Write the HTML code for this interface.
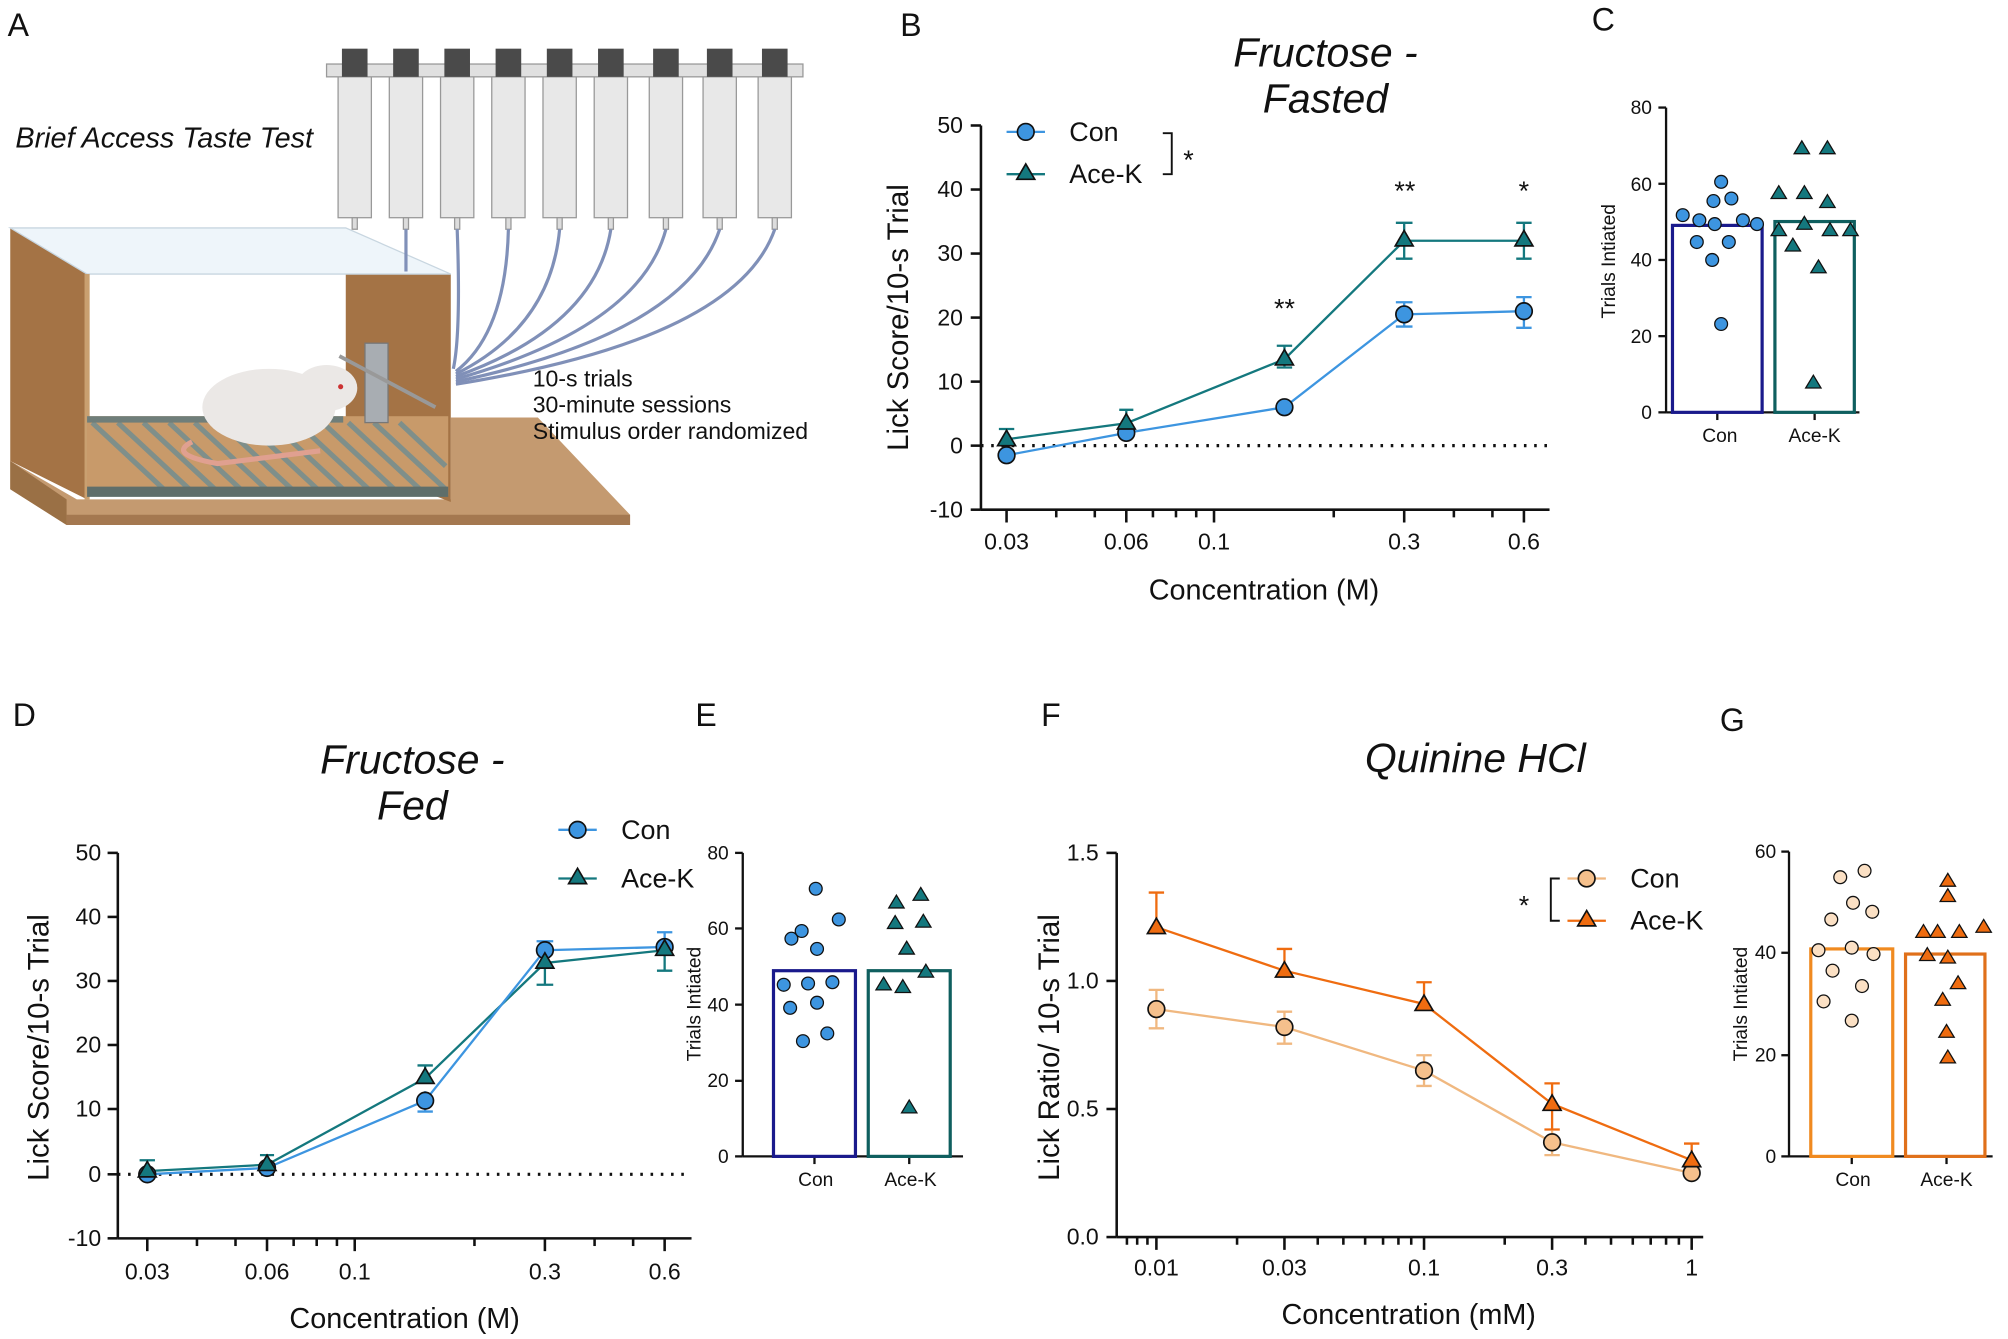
<!DOCTYPE html>
<html><head><meta charset="utf-8"><style>
html,body{margin:0;padding:0;background:#fff}
svg{display:block}
text{font-family:"Liberation Sans",sans-serif;fill:#111}
.t{font-size:18px}
.st{font-size:15px}
.ax{font-size:21px}
.ax2{font-size:22.5px}
.ay{font-size:23px}
.ti{font-size:32px;font-style:italic}
.L{font-size:25px}
</style></head><body>
<svg width="2008" height="1339" viewBox="0 0 1568 1045.6" xmlns="http://www.w3.org/2000/svg">
<rect width="1568" height="1046" fill="#fff"/>
<text class="L" x="6" y="28">A</text>
<text class="L" x="703" y="28">B</text>
<text class="L" x="1243" y="24">C</text>
<text class="L" x="10" y="567">D</text>
<text class="L" x="543" y="567">E</text>
<text class="L" x="813" y="567">F</text>
<text class="L" x="1343" y="571">G</text>

<g>
 <polygon points="8,382 52,410 492,410 492,402 420,326 352,326 352,390 60,390 8,360" fill="#c49a70"/>
 <polygon points="8,360 52,390 52,410 8,382" fill="#9a7045"/>
 <polygon points="52,402 492,402 492,410 52,410" fill="#a47850"/>
 <polygon points="8,178 68,214 68,390 8,360" fill="#a47345"/>
 <polygon points="270,180 352,214 352,392 270,360" fill="#a47345"/>
 <polygon points="8,178 270,178 352,214 68,214" fill="#eef5fa" stroke="#c8d6e0"/>
 <rect x="66" y="214" width="4" height="176" fill="#c9a070"/>
 <rect x="68" y="325" width="282" height="62" fill="#c89a6a"/>
 <g stroke="#7f8f8a" stroke-width="4">
  <line x1="72" y1="330" x2="130" y2="384"/><line x1="92" y1="330" x2="150" y2="384"/><line x1="112" y1="330" x2="170" y2="384"/><line x1="132" y1="330" x2="190" y2="384"/><line x1="152" y1="330" x2="210" y2="384"/><line x1="172" y1="330" x2="230" y2="384"/><line x1="192" y1="330" x2="250" y2="384"/><line x1="212" y1="330" x2="270" y2="384"/><line x1="232" y1="330" x2="290" y2="384"/><line x1="252" y1="330" x2="310" y2="384"/><line x1="272" y1="330" x2="330" y2="384"/><line x1="292" y1="330" x2="348" y2="382"/><line x1="312" y1="330" x2="348" y2="364"/>
 </g>
 <rect x="68" y="380" width="282" height="8" fill="#5f6e6a"/>
 <rect x="68" y="325" width="200" height="5" fill="#6f7e7a"/>
 <rect x="285" y="268" width="18" height="62" fill="#a8adb2" stroke="#777"/>
 <line x1="265" y1="278" x2="340" y2="318" stroke="#999" stroke-width="3"/>
 <ellipse cx="210" cy="318" rx="52" ry="30" fill="#ebe8e6"/>
 <ellipse cx="255" cy="303" rx="24" ry="18" fill="#ebe8e6"/>
 <circle cx="266" cy="302" r="2" fill="#c33"/>
 <path d="M150,345 Q130,355 170,362 L250,352" stroke="#e0a090" stroke-width="4" fill="none"/>
 <g fill="#e8e8e8" stroke="#999">
  <rect x="264" y="52" width="26" height="118"/><rect x="304" y="52" width="26" height="118"/><rect x="344" y="52" width="26" height="118"/><rect x="384" y="52" width="26" height="118"/><rect x="424" y="52" width="26" height="118"/><rect x="464" y="52" width="26" height="118"/><rect x="507" y="52" width="26" height="118"/><rect x="549" y="52" width="26" height="118"/><rect x="592" y="52" width="26" height="118"/>
 </g>
 <g fill="#ddd" stroke="#999">
  <rect x="275" y="170" width="4" height="9"/><rect x="315" y="170" width="4" height="9"/><rect x="355" y="170" width="4" height="9"/><rect x="395" y="170" width="4" height="9"/><rect x="435" y="170" width="4" height="9"/><rect x="475" y="170" width="4" height="9"/><rect x="518" y="170" width="4" height="9"/><rect x="560" y="170" width="4" height="9"/><rect x="603" y="170" width="4" height="9"/>
 </g>
 <rect x="255" y="50" width="372" height="10" fill="#e0e0e0" stroke="#999"/>
 <g fill="#4a4a4a">
  <rect x="267" y="38" width="20" height="22"/><rect x="307" y="38" width="20" height="22"/><rect x="347" y="38" width="20" height="22"/><rect x="387" y="38" width="20" height="22"/><rect x="427" y="38" width="20" height="22"/><rect x="467" y="38" width="20" height="22"/><rect x="510" y="38" width="20" height="22"/><rect x="552" y="38" width="20" height="22"/><rect x="595" y="38" width="20" height="22"/>
 </g>
 <g stroke="#8090b8" stroke-width="2.5" fill="none">
  <path d="M317,179 L317,212"/><path d="M357,179 Q360,260 354,288"/><path d="M397,179 Q395,260 356,290"/><path d="M437,179 Q430,255 356,292"/><path d="M477,179 Q465,255 356,294"/><path d="M520,179 Q500,255 356,296"/><path d="M562,179 Q535,260 356,298"/><path d="M605,179 Q575,265 356,300"/>
 </g>
 <text x="12" y="115" style="font-size:22.5px;font-style:italic">Brief Access Taste Test</text>
 <text x="416" y="302" style="font-size:18px">10-s trials</text>
 <text x="416" y="322" style="font-size:18px">30-minute sessions</text>
 <text x="416" y="343" style="font-size:18px">Stimulus order randomized</text>
</g>

<g>
 <text class="ti" x="1035" y="52" text-anchor="middle">Fructose -</text>
 <text class="ti" x="1035" y="88" text-anchor="middle">Fasted</text>
 <g stroke="#111" stroke-width="2">
  <line x1="766" y1="98" x2="766" y2="398"/>
  <line x1="766" y1="398" x2="1210" y2="398"/>
  <line x1="758" y1="98" x2="766" y2="98"/><line x1="758" y1="148" x2="766" y2="148"/><line x1="758" y1="198" x2="766" y2="198"/><line x1="758" y1="248" x2="766" y2="248"/><line x1="758" y1="298" x2="766" y2="298"/><line x1="758" y1="348" x2="766" y2="348"/><line x1="758" y1="398" x2="766" y2="398"/>
  <line x1="786" y1="398" x2="786" y2="408"/><line x1="879.5" y1="398" x2="879.5" y2="408"/><line x1="948" y1="398" x2="948" y2="408"/><line x1="1096.5" y1="398" x2="1096.5" y2="408"/><line x1="1190" y1="398" x2="1190" y2="408"/>
  <line x1="824.8" y1="398" x2="824.8" y2="404"/><line x1="854.9" y1="398" x2="854.9" y2="404"/><line x1="900.3" y1="398" x2="900.3" y2="404"/><line x1="918.3" y1="398" x2="918.3" y2="404"/><line x1="934.1" y1="398" x2="934.1" y2="404"/><line x1="1041.5" y1="398" x2="1041.5" y2="404"/><line x1="1135.3" y1="398" x2="1135.3" y2="404"/><line x1="1165.4" y1="398" x2="1165.4" y2="404"/>
 </g>
 <line x1="766" y1="348" x2="1210" y2="348" stroke="#111" stroke-width="2.5" stroke-dasharray="2,6"/>
 <g class="t" text-anchor="end"><text x="752" y="104">50</text><text x="752" y="154">40</text><text x="752" y="204">30</text><text x="752" y="254">20</text><text x="752" y="304">10</text><text x="752" y="354">0</text><text x="752" y="404">-10</text></g>
 <g class="t" text-anchor="middle"><text x="786" y="429">0.03</text><text x="879.5" y="429">0.06</text><text x="948" y="429">0.1</text><text x="1096.5" y="429">0.3</text><text x="1190" y="429">0.6</text></g>
 <text class="ax2" x="987" y="468" text-anchor="middle">Concentration (M)</text>
 <text class="ay" transform="translate(709,248) rotate(-90)" text-anchor="middle">Lick Score/10-s Trial</text>
 <g stroke="#3d95e0" stroke-width="1.8" fill="none">
  <polyline points="786,355.5 879.5,338 1003,318 1096.5,245.5 1190,243"/>
  <path d="M1096.5,236v19M1090,236h13M1090,255h13M1190,232v24M1184,232h12M1184,256h12M879.5,332v12M874,332h11"/>
 </g>
 <g stroke="#14787e" stroke-width="1.8" fill="none">
  <polyline points="786,343 879.5,330.5 1003,280.5 1096.5,188 1190,188"/>
  <path d="M1096.5,174v28M1090,174h13M1090,202h13M1190,174v28M1184,174h12M1184,202h12M1003,270v17M997,270h12M997,287h12M786,335v8M780,335h12M879.5,320v10M874,320h11"/>
 </g>
 <g fill="#3d95e0" stroke="#111" stroke-width="1.3">
  <circle cx="786" cy="355.5" r="6.5"/><circle cx="879.5" cy="338" r="6.5"/><circle cx="1003" cy="318" r="6.5"/><circle cx="1096.5" cy="245.5" r="6.5"/><circle cx="1190" cy="243" r="6.5"/>
 </g>
 <g fill="#14787e" stroke="#111" stroke-width="1.3">
  <polygon points="786,336 793,348 779,348"/><polygon points="879.5,323 886.5,335 872.5,335"/><polygon points="1003,273 1010,285 996,285"/><polygon points="1096.5,180 1103.5,192 1089.5,192"/><polygon points="1190,180 1197,192 1183,192"/>
 </g>
 <line x1="786" y1="103" x2="816" y2="103" stroke="#3d95e0" stroke-width="1.8"/><circle cx="801" cy="103" r="6.5" fill="#3d95e0" stroke="#111" stroke-width="1.3"/>
 <line x1="786" y1="136" x2="816" y2="136" stroke="#14787e" stroke-width="1.8"/><polygon points="801,128 808,140 794,140" fill="#14787e" stroke="#111" stroke-width="1.3"/>
 <text class="ax" x="835" y="110">Con</text><text class="ax" x="835" y="143">Ace-K</text>
 <path d="M908,104h7v32h-7" stroke="#111" stroke-width="1.5" fill="none"/>
 <text class="ax" x="924" y="132">*</text>
 <text class="ax" x="1003" y="248" text-anchor="middle">**</text>
 <text class="ax" x="1097" y="156" text-anchor="middle">**</text>
 <text class="ax" x="1190" y="156" text-anchor="middle">*</text>
</g>

<g>
 <g stroke="#111" stroke-width="1.8">
  <line x1="1301" y1="84" x2="1301" y2="322"/><line x1="1301" y1="322" x2="1452" y2="322"/>
  <line x1="1295" y1="84" x2="1301" y2="84"/><line x1="1295" y1="143.5" x2="1301" y2="143.5"/><line x1="1295" y1="203" x2="1301" y2="203"/><line x1="1295" y1="262.5" x2="1301" y2="262.5"/><line x1="1295" y1="322" x2="1301" y2="322"/>
  <line x1="1341" y1="322" x2="1341" y2="328"/><line x1="1417" y1="322" x2="1417" y2="328"/>
 </g>
 <g class="st" text-anchor="end"><text x="1290" y="89">80</text><text x="1290" y="149">60</text><text x="1290" y="208">40</text><text x="1290" y="268">20</text><text x="1290" y="327">0</text></g>
 <g class="st" text-anchor="middle"><text x="1343" y="345">Con</text><text x="1417" y="345">Ace-K</text></g>
 <text class="st" transform="translate(1261,204) rotate(-90)" text-anchor="middle">Trials Intiated</text>
 <rect x="1306" y="176" width="70" height="146" fill="none" stroke="#1a1a8c" stroke-width="2.5"/>
 <rect x="1386" y="173" width="62" height="149" fill="none" stroke="#0f5f5f" stroke-width="2.5"/>
 <g fill="#3d95e0" stroke="#111" stroke-width="1">
  <circle cx="1344" cy="142" r="5"/><circle cx="1338" cy="157" r="5"/><circle cx="1314" cy="168" r="5"/><circle cx="1352" cy="155" r="5"/><circle cx="1327" cy="172" r="5"/><circle cx="1339" cy="175" r="5"/><circle cx="1361" cy="172" r="5"/><circle cx="1372" cy="175" r="5"/><circle cx="1325" cy="189" r="5"/><circle cx="1350" cy="189" r="5"/><circle cx="1337" cy="203" r="5"/><circle cx="1344" cy="253" r="5"/>
 </g>
 <g fill="#14787e" stroke="#111" stroke-width="1">
  <polygon points="1407,110 1413,120 1401,120"/><polygon points="1427,110 1433,120 1421,120"/><polygon points="1389,145 1395,155 1383,155"/><polygon points="1409,145 1415,155 1403,155"/><polygon points="1427,152 1433,162 1421,162"/><polygon points="1389,174 1395,184 1383,184"/><polygon points="1409,169 1415,179 1403,179"/><polygon points="1445,174 1451,184 1439,184"/><polygon points="1429,174 1435,184 1423,184"/><polygon points="1400,186 1406,196 1394,196"/><polygon points="1420,203 1426,213 1414,213"/><polygon points="1416,293 1422,303 1410,303"/>
 </g>
</g>

<g>
 <text class="ti" x="322" y="604" text-anchor="middle">Fructose -</text>
 <text class="ti" x="322" y="640" text-anchor="middle">Fed</text>
 <g stroke="#111" stroke-width="2">
  <line x1="92" y1="666" x2="92" y2="967"/><line x1="92" y1="967" x2="540" y2="967"/>
  <line x1="84" y1="666" x2="92" y2="666"/><line x1="84" y1="716" x2="92" y2="716"/><line x1="84" y1="766" x2="92" y2="766"/><line x1="84" y1="816" x2="92" y2="816"/><line x1="84" y1="866" x2="92" y2="866"/><line x1="84" y1="917" x2="92" y2="917"/><line x1="84" y1="967" x2="92" y2="967"/>
  <line x1="115" y1="967" x2="115" y2="977"/><line x1="208.5" y1="967" x2="208.5" y2="977"/><line x1="277" y1="967" x2="277" y2="977"/><line x1="425.5" y1="967" x2="425.5" y2="977"/><line x1="519" y1="967" x2="519" y2="977"/>
  <line x1="153.8" y1="967" x2="153.8" y2="973"/><line x1="183.9" y1="967" x2="183.9" y2="973"/><line x1="229.3" y1="967" x2="229.3" y2="973"/><line x1="247.3" y1="967" x2="247.3" y2="973"/><line x1="263.1" y1="967" x2="263.1" y2="973"/><line x1="370.5" y1="967" x2="370.5" y2="973"/><line x1="464.3" y1="967" x2="464.3" y2="973"/><line x1="494.4" y1="967" x2="494.4" y2="973"/>
 </g>
 <line x1="92" y1="917" x2="540" y2="917" stroke="#111" stroke-width="2.5" stroke-dasharray="2,6"/>
 <g class="t" text-anchor="end"><text x="79" y="672">50</text><text x="79" y="722">40</text><text x="79" y="772">30</text><text x="79" y="822">20</text><text x="79" y="872">10</text><text x="79" y="923">0</text><text x="79" y="973">-10</text></g>
 <g class="t" text-anchor="middle"><text x="115" y="999">0.03</text><text x="208.5" y="999">0.06</text><text x="277" y="999">0.1</text><text x="425.5" y="999">0.3</text><text x="519" y="999">0.6</text></g>
 <text class="ax2" x="316" y="1037" text-anchor="middle">Concentration (M)</text>
 <text class="ay" transform="translate(38,818) rotate(-90)" text-anchor="middle">Lick Score/10-s Trial</text>
 <g stroke="#14787e" stroke-width="1.8" fill="none">
  <polyline points="115,914.5 208.5,909.5 332,842 425.5,752 519,742"/>
  <path d="M115,906v9M109,906h12M208.5,902v8M203,902h11M332,832v10M326,832h12M425.5,752v17M419,769h13M519,742v16M513,758h12"/>
 </g>
 <g stroke="#3d95e0" stroke-width="1.8" fill="none">
  <polyline points="115,917 208.5,912 332,859.5 425.5,742 519,739.5"/>
  <path d="M332,852v16M326,868h12M425.5,735v7M419,735h13M519,728v12M513,728h12"/>
 </g>
 <g fill="#3d95e0" stroke="#111" stroke-width="1.3">
  <circle cx="115" cy="917" r="6.5"/><circle cx="208.5" cy="912" r="6.5"/><circle cx="332" cy="859.5" r="6.5"/><circle cx="425.5" cy="742" r="6.5"/><circle cx="519" cy="739.5" r="6.5"/>
 </g>
 <g fill="#14787e" stroke="#111" stroke-width="1.3">
  <polygon points="115,907 122,919 108,919"/><polygon points="208.5,902 215.5,914 201.5,914"/><polygon points="332,834 339,846 325,846"/><polygon points="425.5,744 432.5,756 418.5,756"/><polygon points="519,734 526,746 512,746"/>
 </g>
 <line x1="436" y1="648" x2="466" y2="648" stroke="#3d95e0" stroke-width="1.8"/><circle cx="451" cy="648" r="6.5" fill="#3d95e0" stroke="#111" stroke-width="1.3"/>
 <line x1="436" y1="686" x2="466" y2="686" stroke="#14787e" stroke-width="1.8"/><polygon points="451,678 458,690 444,690" fill="#14787e" stroke="#111" stroke-width="1.3"/>
 <text class="ax" x="485" y="655">Con</text><text class="ax" x="485" y="693">Ace-K</text>
</g>

<g>
 <g stroke="#111" stroke-width="1.8">
  <line x1="580" y1="666" x2="580" y2="903"/><line x1="580" y1="903" x2="752" y2="903"/>
  <line x1="574" y1="666" x2="580" y2="666"/><line x1="574" y1="725" x2="580" y2="725"/><line x1="574" y1="784.5" x2="580" y2="784.5"/><line x1="574" y1="844" x2="580" y2="844"/><line x1="574" y1="903" x2="580" y2="903"/>
  <line x1="636" y1="903" x2="636" y2="909"/><line x1="710" y1="903" x2="710" y2="909"/>
 </g>
 <g class="st" text-anchor="end"><text x="569" y="671">80</text><text x="569" y="730">60</text><text x="569" y="790">40</text><text x="569" y="849">20</text><text x="569" y="908">0</text></g>
 <g class="st" text-anchor="middle"><text x="637" y="926">Con</text><text x="711" y="926">Ace-K</text></g>
 <text class="st" transform="translate(547,784) rotate(-90)" text-anchor="middle">Trials Intiated</text>
 <rect x="604" y="758" width="64" height="145" fill="none" stroke="#1a1a8c" stroke-width="2.5"/>
 <rect x="678" y="758" width="64" height="145" fill="none" stroke="#0f5f5f" stroke-width="2.5"/>
 <g fill="#3d95e0" stroke="#111" stroke-width="1">
  <circle cx="637" cy="694" r="5"/><circle cx="618" cy="733" r="5"/><circle cx="638" cy="741" r="5"/><circle cx="655" cy="718" r="5"/><circle cx="626" cy="727" r="5"/><circle cx="612" cy="769" r="5"/><circle cx="631" cy="768" r="5"/><circle cx="650" cy="767" r="5"/><circle cx="638" cy="783" r="5"/><circle cx="617" cy="787" r="5"/><circle cx="646" cy="807" r="5"/><circle cx="627" cy="813" r="5"/>
 </g>
 <g fill="#14787e" stroke="#111" stroke-width="1">
  <polygon points="700,699 706,709 694,709"/><polygon points="719,693 725,703 713,703"/><polygon points="699,715 705,725 693,725"/><polygon points="721,714 727,724 715,724"/><polygon points="708,735 714,745 702,745"/><polygon points="723,753 729,763 717,763"/><polygon points="690,763 696,773 684,773"/><polygon points="705,765 711,775 699,775"/><polygon points="710,859 716,869 704,869"/>
 </g>
</g>

<g>
 <text class="ti" x="1152" y="603" text-anchor="middle">Quinine HCl</text>
 <g stroke="#111" stroke-width="2">
  <line x1="872" y1="666" x2="872" y2="966"/><line x1="872" y1="966" x2="1330" y2="966"/>
  <line x1="864" y1="666" x2="872" y2="666"/><line x1="864" y1="766" x2="872" y2="766"/><line x1="864" y1="866" x2="872" y2="866"/><line x1="864" y1="966" x2="872" y2="966"/>
  <line x1="903" y1="966" x2="903" y2="976"/><line x1="1003" y1="966" x2="1003" y2="976"/><line x1="1112" y1="966" x2="1112" y2="976"/><line x1="1212" y1="966" x2="1212" y2="976"/><line x1="1321" y1="966" x2="1321" y2="976"/>
  <line x1="966" y1="966" x2="966" y2="972"/><line x1="1029" y1="966" x2="1029" y2="972"/><line x1="1049" y1="966" x2="1049" y2="972"/><line x1="1066" y1="966" x2="1066" y2="972"/><line x1="1080" y1="966" x2="1080" y2="972"/><line x1="1092" y1="966" x2="1092" y2="972"/><line x1="1102" y1="966" x2="1102" y2="972"/><line x1="1175" y1="966" x2="1175" y2="972"/><line x1="1238" y1="966" x2="1238" y2="972"/><line x1="1258" y1="966" x2="1258" y2="972"/><line x1="1275" y1="966" x2="1275" y2="972"/><line x1="1289" y1="966" x2="1289" y2="972"/><line x1="1301" y1="966" x2="1301" y2="972"/><line x1="1311" y1="966" x2="1311" y2="972"/>
  <line x1="880" y1="966" x2="880" y2="972"/><line x1="888" y1="966" x2="888" y2="972"/><line x1="896" y1="966" x2="896" y2="972"/>
 </g>
 <g class="t" text-anchor="end"><text x="858" y="672">1.5</text><text x="858" y="772">1.0</text><text x="858" y="872">0.5</text><text x="858" y="972">0.0</text></g>
 <g class="t" text-anchor="middle"><text x="903" y="996">0.01</text><text x="1003" y="996">0.03</text><text x="1112" y="996">0.1</text><text x="1212" y="996">0.3</text><text x="1321" y="996">1</text></g>
 <text class="ax2" x="1100" y="1034" text-anchor="middle">Concentration (mM)</text>
 <text class="ay" transform="translate(827,818) rotate(-90)" text-anchor="middle">Lick Ratio/ 10-s Trial</text>
 <g stroke="#f0b880" stroke-width="1.8" fill="none">
  <polyline points="903,788 1003,802 1112,836 1212,892 1321,916"/>
  <path d="M903,773v30M897,773h12M897,803h12M1003,790v25M997,790h12M997,815h12M1112,824v24M1106,824h12M1106,848h12M1212,883v19M1206,902h12"/>
 </g>
 <g stroke="#ef6c10" stroke-width="1.8" fill="none">
  <polyline points="903,724 1003,758 1112,784 1212,862 1321,906"/>
  <path d="M903,697v27M897,697h12M1003,741v17M997,741h12M1112,767v17M1106,767h12M1212,846v36M1206,846h12M1206,882h12M1321,893v13M1315,893h12"/>
 </g>
 <g fill="#f5c08c" stroke="#111" stroke-width="1.3">
  <circle cx="903" cy="788" r="6.5"/><circle cx="1003" cy="802" r="6.5"/><circle cx="1112" cy="836" r="6.5"/><circle cx="1212" cy="892" r="6.5"/><circle cx="1321" cy="916" r="6.5"/>
 </g>
 <g fill="#ef6c10" stroke="#111" stroke-width="1.3">
  <polygon points="903,717 910,729 896,729"/><polygon points="1003,751 1010,763 996,763"/><polygon points="1112,777 1119,789 1105,789"/><polygon points="1212,855 1219,867 1205,867"/><polygon points="1321,899 1328,911 1314,911"/>
 </g>
 <line x1="1224" y1="686" x2="1254" y2="686" stroke="#f0b880" stroke-width="1.8"/><circle cx="1239" cy="686" r="6.5" fill="#f5c08c" stroke="#111" stroke-width="1.3"/>
 <line x1="1224" y1="719" x2="1254" y2="719" stroke="#ef6c10" stroke-width="1.8"/><polygon points="1239,711 1246,723 1232,723" fill="#ef6c10" stroke="#111" stroke-width="1.3"/>
 <text class="ax" x="1273" y="693">Con</text><text class="ax" x="1273" y="726">Ace-K</text>
 <path d="M1218,686h-7v33h7" stroke="#111" stroke-width="1.5" fill="none"/>
 <text class="ax" x="1186" y="714">*</text>
</g>

<g>
 <g stroke="#111" stroke-width="1.8">
  <line x1="1397" y1="665" x2="1397" y2="903"/><line x1="1397" y1="903" x2="1556" y2="903"/>
  <line x1="1391" y1="665" x2="1397" y2="665"/><line x1="1391" y1="744" x2="1397" y2="744"/><line x1="1391" y1="824" x2="1397" y2="824"/><line x1="1391" y1="903" x2="1397" y2="903"/>
  <line x1="1446" y1="903" x2="1446" y2="909"/><line x1="1520" y1="903" x2="1520" y2="909"/>
 </g>
 <g class="st" text-anchor="end"><text x="1387" y="670">60</text><text x="1387" y="749">40</text><text x="1387" y="829">20</text><text x="1387" y="908">0</text></g>
 <g class="st" text-anchor="middle"><text x="1447" y="926">Con</text><text x="1520" y="926">Ace-K</text></g>
 <text class="st" transform="translate(1364,784) rotate(-90)" text-anchor="middle">Trials Intiated</text>
 <rect x="1414" y="741" width="64" height="162" fill="none" stroke="#f08a20" stroke-width="2.5"/>
 <rect x="1488" y="745" width="62" height="158" fill="none" stroke="#e0701a" stroke-width="2.5"/>
 <g fill="#fbe0c4" stroke="#111" stroke-width="1">
  <circle cx="1456" cy="680" r="5"/><circle cx="1437" cy="685" r="5"/><circle cx="1447" cy="705" r="5"/><circle cx="1462" cy="712" r="5"/><circle cx="1430" cy="718" r="5"/><circle cx="1446" cy="740" r="5"/><circle cx="1420" cy="742" r="5"/><circle cx="1463" cy="745" r="5"/><circle cx="1431" cy="758" r="5"/><circle cx="1454" cy="770" r="5"/><circle cx="1424" cy="782" r="5"/><circle cx="1446" cy="797" r="5"/>
 </g>
 <g fill="#ef6c10" stroke="#111" stroke-width="1">
  <polygon points="1521,682 1527,692 1515,692"/><polygon points="1521,694 1527,704 1515,704"/><polygon points="1502,722 1508,732 1496,732"/><polygon points="1513,722 1519,732 1507,732"/><polygon points="1530,722 1536,732 1524,732"/><polygon points="1549,718 1555,728 1543,728"/><polygon points="1505,740 1511,750 1499,750"/><polygon points="1521,742 1527,752 1515,752"/><polygon points="1529,762 1535,772 1523,772"/><polygon points="1517,775 1523,785 1511,785"/><polygon points="1520,800 1526,810 1514,810"/><polygon points="1521,820 1527,830 1515,830"/>
 </g>
</g>
</svg>
</body></html>
